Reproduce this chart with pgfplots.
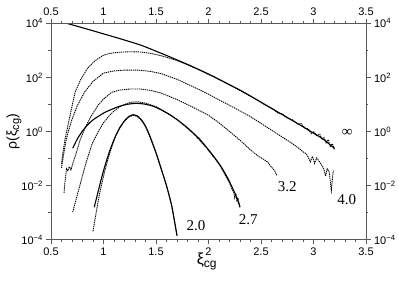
\documentclass[border=0pt]{standalone}
\usepackage{fontspec}
\setmainfont{Liberation Sans}
\newfontfamily\seriffont{Liberation Serif}
\usepackage{pgfplots}
\pgfplotsset{compat=1.18}
\definecolor{axisgray}{gray}{0.35}

\tikzset{curvelabel/.style={font=\seriffont\fontsize{15}{15}\selectfont}}

% y is plotted as log10(rho), labelled as powers of ten
\pgfplotsset{
  rhobase/.style={
    at={(0,0)}, anchor=south west,
    width=315pt, height=216.4pt, scale only axis,
    xmin=0.5, xmax=3.5, ymin=-4, ymax=4,
    xtick={0.5,1,1.5,2,2.5,3,3.5}, minor x tick num=4,
    ytick={-4,-2,0,2,4}, minor ytick={-3,-1,1,3},
    yticklabels={10\textsuperscript{−4},10\textsuperscript{−2},10\textsuperscript{0},10\textsuperscript{2},10\textsuperscript{4}},
    tick align=outside,
    major tick length=4.5pt, minor tick length=2.5pt,
    axis line style={axisgray, line width=0.7pt},
    every tick/.style={axisgray, line width=0.6pt},
    tick label style={font=\fontsize{11}{12}\selectfont},
    /pgf/number format/assume math mode=true,
  },
  theory/.style={black, line width=1.1pt, no marks, smooth, tension=0.4},
  sim/.style={black, line width=0.9pt, dash pattern=on 1.3pt off 0.8pt, no marks},
}

\begin{document}
\begin{tikzpicture}
\begin{axis}[rhobase,
  xlabel={{\fontsize{16}{16}\selectfont ξ}\textsubscript{\fontsize{12}{12}\selectfont cg}},
  ylabel={{\fontsize{14}{14}\selectfont ρ(ξ}\textsubscript{\fontsize{11}{11}\selectfont cg}{\fontsize{14}{14}\selectfont )}},
  xlabel style={at={(axis description cs:0.495,-0.1)}, anchor=center},
  ylabel style={at={(axis description cs:-0.1175,0.5)}, anchor=center},
]
% infinity, theory
\addplot[theory] coordinates {
  (0.65,4.0) (0.75,3.89) (0.85,3.78) (1.0,3.61) (1.15,3.44) (1.35,3.20)
  (1.5,2.97) (1.65,2.73) (1.8,2.48) (1.92,2.27) (2.05,2.03) (2.2,1.73)
  (2.3,1.53) (2.45,1.20) (2.55,0.97) (2.7,0.63) (2.85,0.29) (3.0,-0.06)
  (3.1,-0.30) (3.16,-0.50) (3.2,-0.62)
};
% infinity, simulation
\addplot[sim] coordinates {
  (0.60,-1.2) (0.615,-0.75) (0.633,-0.3) (0.66,0.2) (0.69,0.75) (0.73,1.46)
  (0.78,1.9) (0.85,2.35) (0.92,2.62) (1.0,2.82) (1.06,2.89) (1.15,2.93)
  (1.25,2.95) (1.35,2.94) (1.45,2.89) (1.55,2.80) (1.62,2.72) (1.7,2.62)
  (1.8,2.47) (1.92,2.26) (2.05,2.02) (2.2,1.72) (2.3,1.52) (2.45,1.19)
  (2.55,0.96) (2.62,0.82) (2.66,0.68) (2.7,0.66) (2.75,0.50) (2.8,0.43)
  (2.85,0.27) (2.88,0.30) (2.92,0.12) (2.95,0.10) (2.98,-0.08) (3.0,0.0)
  (3.03,-0.15) (3.06,-0.10) (3.08,-0.30) (3.1,-0.22) (3.12,-0.42)
  (3.14,-0.30) (3.16,-0.55) (3.18,-0.45) (3.2,-0.68)
};
% 4.0, simulation
\addplot[sim] coordinates {
  (0.60,-1.35) (0.62,-0.85) (0.64,-0.4) (0.665,0.0) (0.70,0.45) (0.75,0.95)
  (0.82,1.46) (0.9,1.85) (1.0,2.16) (1.1,2.24) (1.2,2.27) (1.33,2.27)
  (1.45,2.22) (1.55,2.14) (1.7,1.93) (1.85,1.66) (2.0,1.38) (2.1,1.17)
  (2.2,0.97) (2.3,0.76) (2.4,0.55) (2.5,0.30) (2.6,0.05) (2.7,-0.20)
  (2.8,-0.45) (2.86,-0.62) (2.9,-0.75) (2.93,-0.82) (2.95,-0.95)
  (2.97,-1.12) (2.99,-0.92) (3.01,-1.18) (3.03,-0.98) (3.05,-1.08)
  (3.08,-1.25) (3.1,-1.40) (3.115,-1.65) (3.13,-1.38) (3.15,-1.50)
  (3.17,-2.17) (3.185,-1.55) (3.19,-1.45)
};
% 3.2, simulation
\addplot[sim] coordinates {
  (0.624,-2.27) (0.635,-1.8) (0.648,-1.38) (0.66,-1.45) (0.675,-1.3)
  (0.69,-1.42) (0.71,-1.15) (0.74,-0.8) (0.776,-0.33) (0.82,0.1) (0.88,0.55)
  (0.95,0.98) (1.0,1.2) (1.078,1.45) (1.15,1.53) (1.25,1.57) (1.35,1.57)
  (1.45,1.52) (1.55,1.42) (1.7,1.18) (1.85,0.90) (2.0,0.60) (2.1,0.32)
  (2.2,0.0) (2.3,-0.32) (2.4,-0.68) (2.47,-0.90) (2.52,-1.02) (2.56,-1.12)
  (2.6,-1.32) (2.63,-1.45) (2.65,-1.62)
};
% 2.7, simulation
\addplot[sim] coordinates {
  (0.707,-2.98) (0.74,-2.5) (0.776,-1.98) (0.83,-1.2) (0.887,-0.5)
  (0.95,0.0) (1.0,0.32) (1.05,0.56) (1.1,0.76) (1.15,0.90) (1.2,1.0)
  (1.26,1.08) (1.32,1.10) (1.4,1.05) (1.5,0.92) (1.54,0.83) (1.7,0.45)
  (1.85,-0.05) (1.98,-0.60) (2.1,-1.20) (2.2,-1.90) (2.22,-2.10)
  (2.24,-2.25) (2.25,-2.45) (2.26,-2.30) (2.27,-2.55) (2.28,-2.45) (2.30,-2.8)
};
% 2.7, theory
\addplot[theory] coordinates {
  (0.707,-0.62) (0.75,-0.28) (0.8,0.02) (0.85,0.25) (0.9,0.43) (1.0,0.68)
  (1.06,0.79) (1.15,0.93) (1.22,1.0) (1.3,1.04) (1.38,1.02) (1.46,0.95)
  (1.54,0.82) (1.62,0.65) (1.7,0.44) (1.78,0.20) (1.85,-0.04) (1.92,-0.30)
  (1.98,-0.58) (2.05,-0.92) (2.12,-1.30) (2.18,-1.70) (2.23,-2.10)
  (2.27,-2.45) (2.30,-2.8)
};
% 2.0, simulation
\addplot[sim] coordinates {
  (0.90,-3.69) (0.93,-3.0) (0.96,-2.35) (1.0,-1.65) (1.04,-1.05) (1.08,-0.55)
  (1.12,-0.12) (1.16,0.18) (1.2,0.38) (1.24,0.53) (1.28,0.60) (1.32,0.56)
  (1.36,0.42) (1.4,0.18) (1.44,-0.18) (1.5,-0.80) (1.55,-1.40) (1.6,-2.0)
  (1.65,-2.75) (1.70,-3.85)
};
% 2.0, theory
\addplot[theory] coordinates {
  (0.912,-2.8) (0.95,-2.2) (1.0,-1.45) (1.05,-0.82) (1.1,-0.30) (1.15,0.10)
  (1.2,0.40) (1.24,0.55) (1.28,0.62) (1.32,0.58) (1.36,0.44) (1.4,0.20)
  (1.44,-0.15) (1.5,-0.78) (1.55,-1.38) (1.6,-2.0) (1.65,-2.75) (1.70,-3.85)
};
\node[curvelabel] at (axis cs:3.32,-0.07) {∞};
\node[curvelabel] at (axis cs:3.316,-2.52) {4.0};
\node[curvelabel] at (axis cs:2.75,-2.03) {3.2};
\node[curvelabel] at (axis cs:2.379,-3.24) {2.7};
\node[curvelabel] at (axis cs:1.881,-3.47) {2.0};
\end{axis}
% mirrored tick labels on top and right
\begin{axis}[rhobase, xticklabel pos=upper, yticklabel pos=right]
\addplot[draw=none] coordinates {(1,0)};
\end{axis}
\pgfresetboundingbox
\useasboundingbox (-51pt,-42.3pt) rectangle (348pt,239.7pt);
\end{tikzpicture}
\end{document}
